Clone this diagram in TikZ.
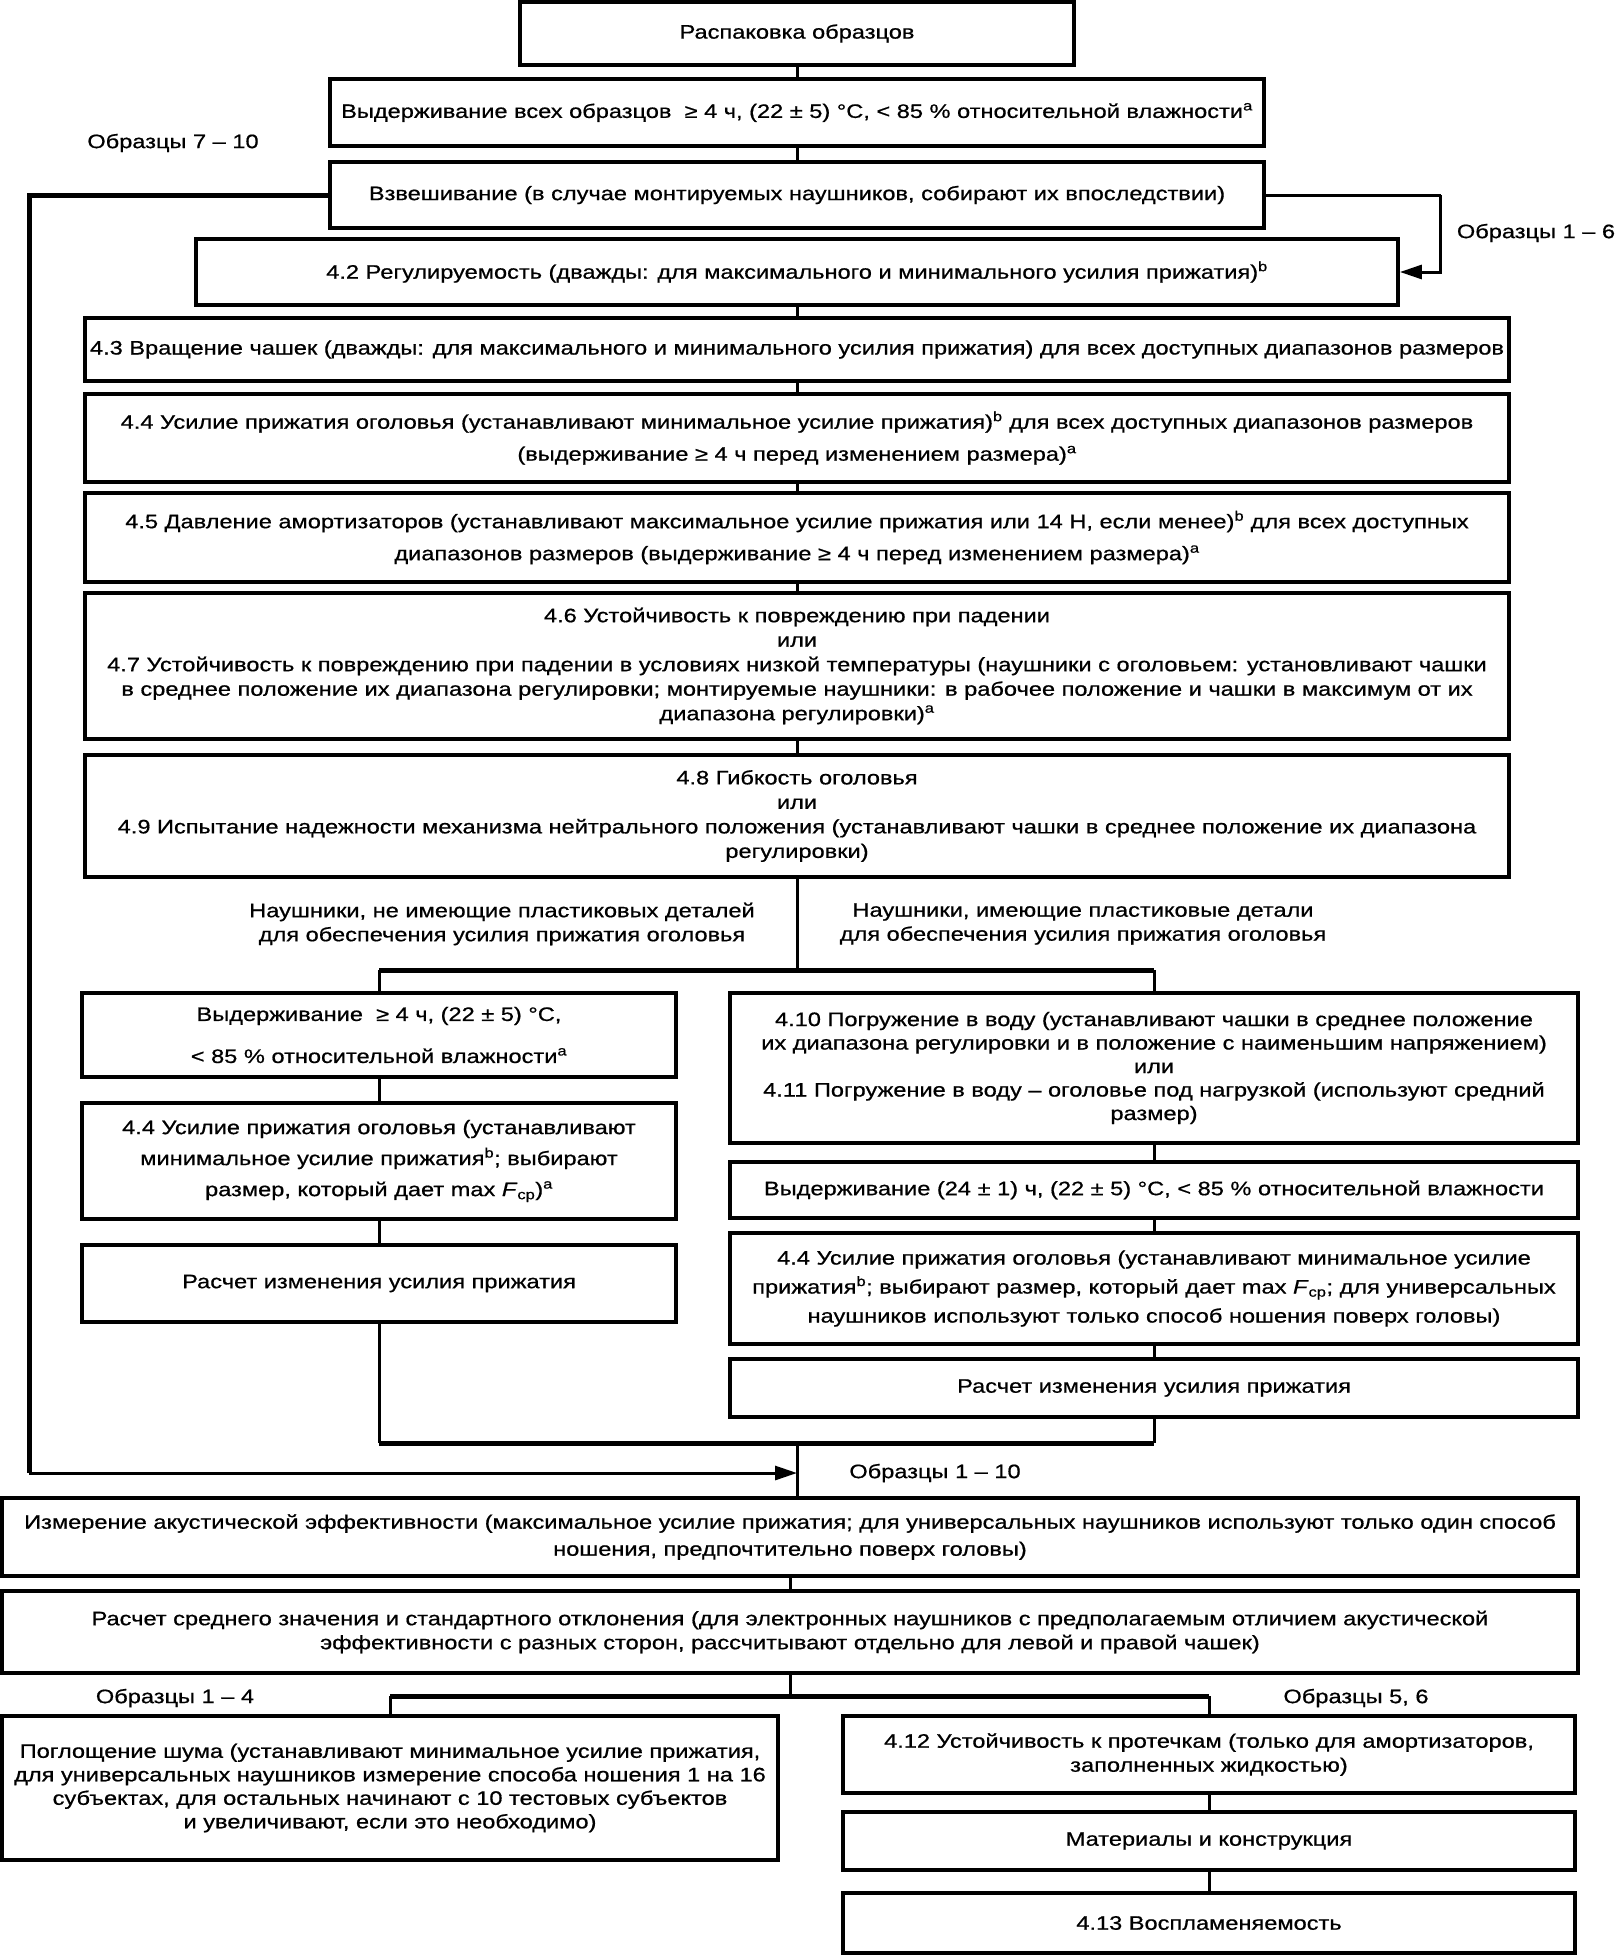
\documentclass[tikz,border=0pt]{standalone}
\usepackage{fontspec}
\setmainfont{Liberation Sans}[FakeStretch=1.21,FakeBold=0.7]
\usetikzlibrary{arrows.meta}
\newcommand\sa{\textsuperscript{a}}
\newcommand\sbb{\textsuperscript{b}}
\newcommand\Fcp{\textit{F}\textsubscript{ср}}
\newcommand\bx[7]{%
  \node[box, minimum width={#4-#2}, minimum height={#5-#3},
        font={\fontsize{19.5}{#6}\selectfont}]
    (#1) at ({(#2+#4)/2},{(#3+#5)/2}) {#7};}
\begin{document}
\begin{tikzpicture}[x=1pt,y=-1pt,
  box/.style={draw, line width=3.8pt, inner sep=0pt, align=center, fill=white},
  conn/.style={line width=3pt},
  bus/.style={line width=5pt},
  arr/.style={line width=3pt, -{Triangle[length=22pt,width=14pt]}},
  lbl/.style={font={\fontsize{19.5}{24}\selectfont}, align=center, inner sep=0pt}]
\useasboundingbox (0,0) rectangle (1614,1956);
\fill[white] (0,0) rectangle (1614,1956);
% coordinates
\coordinate (lx) at (29,193);
\coordinate (tgt) at (797,1473);
\coordinate (bus) at (797,970);
\coordinate (mg) at (797,1443);
\coordinate (sp) at (797,1696);
% boxes
\bx{unpack}{520}{2}{1074}{65}{24}{Распаковка образцов}
\bx{cond}{330}{79}{1264}{146}{24}{Выдерживание всех образцов \ ≥ 4 ч, (22 ± 5) °C, < 85 \% относительной влажности\sa}
\bx{weigh}{330}{162}{1264}{228}{24}{Взвешивание (в случае монтируемых наушников, собирают их впоследствии)}
\bx{adj}{196}{239}{1398}{305}{24}{4.2 Регулируемость (дважды: для максимального и минимального усилия прижатия)\sbb}
\bx{rot}{85}{318}{1509}{381}{24}{4.3 Вращение чашек (дважды: для максимального и минимального усилия прижатия) для всех доступных диапазонов размеров}
\bx{force}{85}{394}{1509}{482}{32}{4.4 Усилие прижатия оголовья (устанавливают минимальное усилие прижатия)\sbb{} для всех доступных диапазонов размеров\\(выдерживание ≥ 4 ч перед изменением размера)\sa}
\bx{press}{85}{493}{1509}{582}{32}{4.5 Давление амортизаторов (устанавливают максимальное усилие прижатия или 14 Н, если менее)\sbb{} для всех доступных\\диапазонов размеров (выдерживание ≥ 4 ч перед изменением размера)\sa}
\bx{drop}{85}{593}{1509}{739}{24.5}{4.6 Устойчивость к повреждению при падении\\или\\4.7 Устойчивость к повреждению при падении в условиях низкой температуры (наушники с оголовьем: установливают чашки\\в среднее положение их диапазона регулировки; монтируемые наушники: в рабочее положение и чашки в максимум от их\\диапазона регулировки)\sa}
\bx{flex}{85}{755}{1509}{877}{24.5}{4.8 Гибкость оголовья\\или\\4.9 Испытание надежности механизма нейтрального положения (устанавливают чашки в среднее положение их диапазона\\регулировки)}
\node[lbl] (lblL) at (502,924) {Наушники, не имеющие пластиковых деталей\\для обеспечения усилия прижатия оголовья};
\node[lbl] (lblR) at (1083,924) {Наушники, имеющие пластиковые детали\\для обеспечения усилия прижатия оголовья};
\bx{A}{82}{993}{676}{1077}{42}{Выдерживание \ ≥ 4 ч, (22 ± 5) °C,\\< 85 \% относительной влажности\sa}
\bx{B}{82}{1103}{676}{1219}{31}{4.4 Усилие прижатия оголовья (устанавливают\\минимальное усилие прижатия\sbb; выбирают\\размер, который дает max \Fcp)\sa}
\bx{C}{82}{1245}{676}{1322}{24}{Расчет изменения усилия прижатия}
\bx{R1}{730}{993}{1578}{1143}{23.5}{4.10 Погружение в воду (устанавливают чашки в среднее положение\\их диапазона регулировки и в положение с наименьшим напряжением)\\или\\4.11 Погружение в воду – оголовье под нагрузкой (используют средний\\размер)}
\bx{R2}{730}{1162}{1578}{1218}{24}{Выдерживание (24 ± 1) ч, (22 ± 5) °C, < 85 \% относительной влажности}
\bx{R3}{730}{1233}{1578}{1344}{29}{4.4 Усилие прижатия оголовья (устанавливают минимальное усилие\\прижатия\sbb; выбирают размер, который дает max \Fcp; для универсальных\\наушников используют только способ ношения поверх головы)}
\bx{R4}{730}{1359}{1578}{1417}{24}{Расчет изменения усилия прижатия}
\bx{M}{2}{1498}{1578}{1576}{27}{Измерение акустической эффективности (максимальное усилие прижатия; для универсальных наушников используют только один способ\\ношения, предпочтительно поверх головы)}
\bx{S}{2}{1591}{1578}{1673}{24}{Расчет среднего значения и стандартного отклонения (для электронных наушников с предполагаемым отличием акустической\\эффективности с разных сторон, рассчитывают отдельно для левой и правой чашек)}
\bx{N}{2}{1716}{778}{1860}{23.5}{Поглощение шума (устанавливают минимальное усилие прижатия,\\для универсальных наушников измерение способа ношения 1 на 16\\субъектах, для остальных начинают с 10 тестовых субъектов\\и увеличивают, если это необходимо)}
\bx{L}{843}{1716}{1575}{1793}{24}{4.12 Устойчивость к протечкам (только для амортизаторов,\\заполненных жидкостью)}
\bx{Mat}{843}{1812}{1575}{1870}{24}{Материалы и конструкция}
\bx{Fl}{843}{1893}{1575}{1953}{24}{4.13 Воспламеняемость}
% labels
\node[lbl] (s710) at (173,143) {Образцы 7 – 10};
\node[lbl] (s16) at (1536,233) {Образцы 1 – 6};
\node[lbl] (s110) at (935,1473) {Образцы 1 – 10};
\node[lbl] (s14) at (175,1698) {Образцы 1 – 4};
\node[lbl] (s56) at (1356,1698) {Образцы 5, 6};
% connectors
\draw[conn] (unpack.south) -- (unpack.south |- cond.north);
\draw[conn] (cond.south) -- (cond.south |- weigh.north);
\draw[conn] (adj.south) -- (adj.south |- rot.north);
\draw[conn] (rot.south) -- (rot.south |- force.north);
\draw[conn] (force.south) -- (force.south |- press.north);
\draw[conn] (press.south) -- (press.south |- drop.north);
\draw[conn] (drop.south) -- (drop.south |- flex.north);
\draw[conn] (flex.south) -- (bus);
\draw[bus] (A.north |- bus) -- (R1.north |- bus);
\draw[conn] (A.north |- bus) -- (A.north);
\draw[conn] (R1.north |- bus) -- (R1.north);
\draw[conn] (A.south) -- (B.north);
\draw[conn] (B.south) -- (C.north);
\draw[conn] (R1.south) -- (R2.north);
\draw[conn] (R2.south) -- (R3.north);
\draw[conn] (R3.south) -- (R4.north);
\draw[conn] (C.south) -- (C.south |- mg);
\draw[conn] (R4.south) -- (R4.south |- mg);
\draw[bus] (C.south |- mg) -- (R4.south |- mg);
\draw[conn] (mg) -- (mg |- M.north);
\draw[bus] (weigh.west) -- (weigh.west -| lx) -- (lx |- tgt);
\draw[arr] (lx |- tgt) -- (tgt);
\draw[conn] (weigh.east) -- ++(175,0) coordinate (rx);
\draw[arr] (rx) |- (adj.east);
\draw[conn] (M.south) -- (M.south |- S.north);
\draw[conn] (sp -| S.south) -- (S.south) ;
\draw[bus] (N.north |- sp) -- (L.north |- sp);
\draw[conn] (N.north |- sp) -- (N.north);
\draw[conn] (L.north |- sp) -- (L.north);
\draw[conn] (L.south) -- (Mat.north);
\draw[conn] (Mat.south) -- (Fl.north);
\end{tikzpicture}
\end{document}
